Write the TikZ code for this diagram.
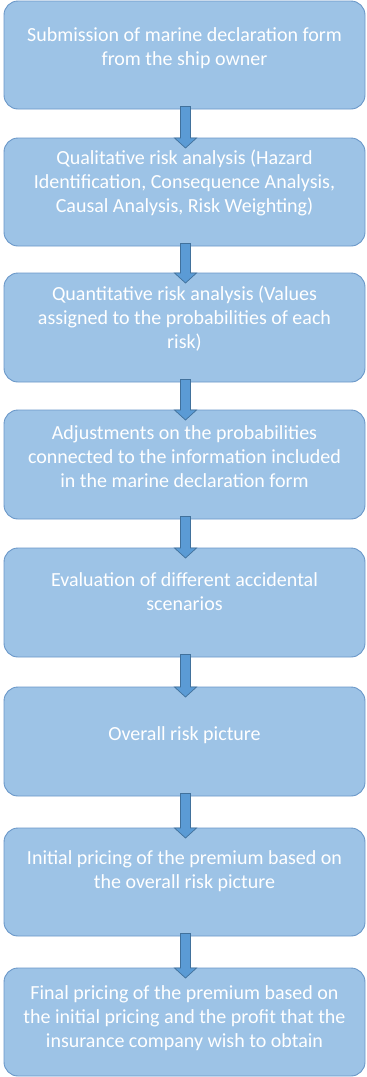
\documentclass[tikz,border=0pt]{standalone}
\usepackage{fontspec}
\setmainfont{Carlito}
\usetikzlibrary{calc}
\definecolor{boxfill}{HTML}{9DC3E6}
\definecolor{boxline}{HTML}{6A97C8}
\definecolor{arrowfill}{HTML}{5B9BD5}
\definecolor{arrowline}{HTML}{41719C}
\tikzset{
  stepbox/.style={draw=boxline, fill=boxfill, line width=0.9pt, rounded corners=14pt,
    minimum width=361pt, minimum height=108pt, inner sep=0pt, outer sep=0pt},
  steptext/.style={text=white, align=center, inner sep=0pt,
    font=\fontsize{20pt}{24.2pt}\selectfont},
  blockarrow/.style={fill=arrowfill, draw=arrowline, line width=0.7pt, line join=miter}
}
\begin{document}
\begin{tikzpicture}[x=1pt, y=-1pt]
\useasboundingbox (0,0) rectangle (367,1077);

% process boxes
\node[stepbox] (b1) at (184.5,55) {};
\node[stepbox] (b2) at (184.5,192) {};
\node[stepbox, minimum height=109pt] (b3) at (184.5,327.5) {};
\node[stepbox, minimum height=109pt] (b4) at (184.5,464.5) {};
\node[stepbox, minimum height=109pt] (b5) at (184.5,602.5) {};
\node[stepbox, minimum height=109pt] (b6) at (184.5,741.5) {};
\node[stepbox] (b7) at (184.5,882) {};
\node[stepbox] (b8) at (184.5,1022) {};

% box captions
\node[steptext] (t1) at ($(b1.center)+(0,-7)$) {Submission of marine declaration form\\from the ship owner};
\node[steptext] (t2) at ($(b2.center)+(0,-9)$) {Qualitative risk analysis (Hazard\\Identification, Consequence Analysis,\\Causal Analysis, Risk Weighting)};
\node[steptext] (t3) at ($(b3.center)+(0,-9)$) {Quantitative risk analysis (Values\\assigned to the probabilities of each\\risk)};
\node[steptext] (t4) at ($(b4.center)+(0,-8)$) {Adjustments on the probabilities\\connected to the information included\\in the marine declaration form};
\node[steptext] (t5) at ($(b5.center)+(0,-11)$) {Evaluation of different accidental\\scenarios};
\node[steptext] (t6) at ($(b6.center)+(0,-6)$) {Overall risk picture};
\node[steptext] (t7) at ($(b7.center)+(0,-11)$) {Initial pricing of the premium based on\\the overall risk picture};
\node[steptext] (t8) at ($(b8.center)+(0,-4)$) {Final pricing of the premium based on\\the initial pricing and the profit that the\\insurance company wish to obtain};

% block arrows between consecutive boxes
\foreach \a/\b in {b1/b2, b2/b3, b3/b4, b4/b5, b5/b6, b6/b7, b7/b8}{
  \draw[blockarrow]
    ($(\a.south)+(-4,-2.5)$) -- ($(\a.south)+(6,-2.5)$) --
    ($(\b.north)+(6,0)$) -- ($(\b.north)+(12,0)$) --
    ($(\b.north)+(1,10)$) --
    ($(\b.north)+(-10,0)$) -- ($(\b.north)+(-4,0)$) -- cycle;
}
\end{tikzpicture}
\end{document}
